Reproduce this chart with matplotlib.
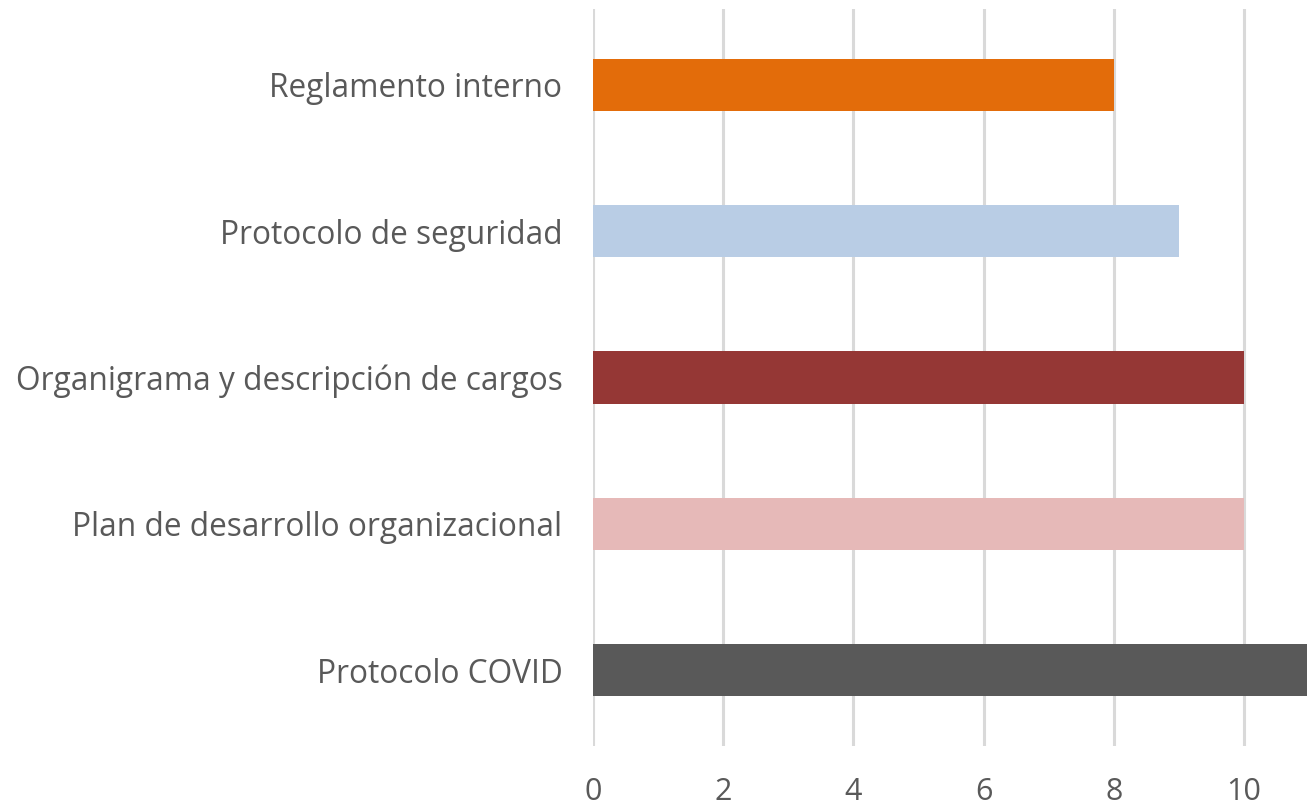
import matplotlib.pyplot as plt

categorias = ['Protocolo COVID', 'Plan de desarrollo organizacional',
              'Organigrama y descripción de cargos', 'Protocolo de seguridad',
              'Reglamento interno']
valores = [11, 10, 10, 9, 8]
colores = ['#595959', '#E6B9B8', '#953735', '#B9CDE5', '#E36C0A']
ticks_x = [0, 2, 4, 6, 8, 10]

plt.rcParams['font.family'] = ['Open Sans', 'DejaVu Sans']

fig = plt.figure(figsize=(13.07, 8.06), dpi=100)
ax = fig.add_axes([0.4537, 0.0745, 0.5463, 0.9143])

pos = list(range(len(categorias)))
ax.barh(pos, valores, height=0.356, color=colores, zorder=3)

ax.set_xlim(0, 10.97)
ax.set_ylim(-0.516, 4.516)
ax.set_xticks(ticks_x)
ax.set_yticks(pos)
ax.set_yticklabels(categorias)
ax.xaxis.grid(True, color='#D9D9D9', linewidth=2.2, zorder=0)
ax.tick_params(axis='both', length=0, colors='#595959')
ax.tick_params(axis='x', pad=22, labelsize=22)
ax.tick_params(axis='y', pad=22, labelsize=22.8)
for s in ax.spines.values():
    s.set_visible(False)

fig.savefig('out.png', dpi=100)
